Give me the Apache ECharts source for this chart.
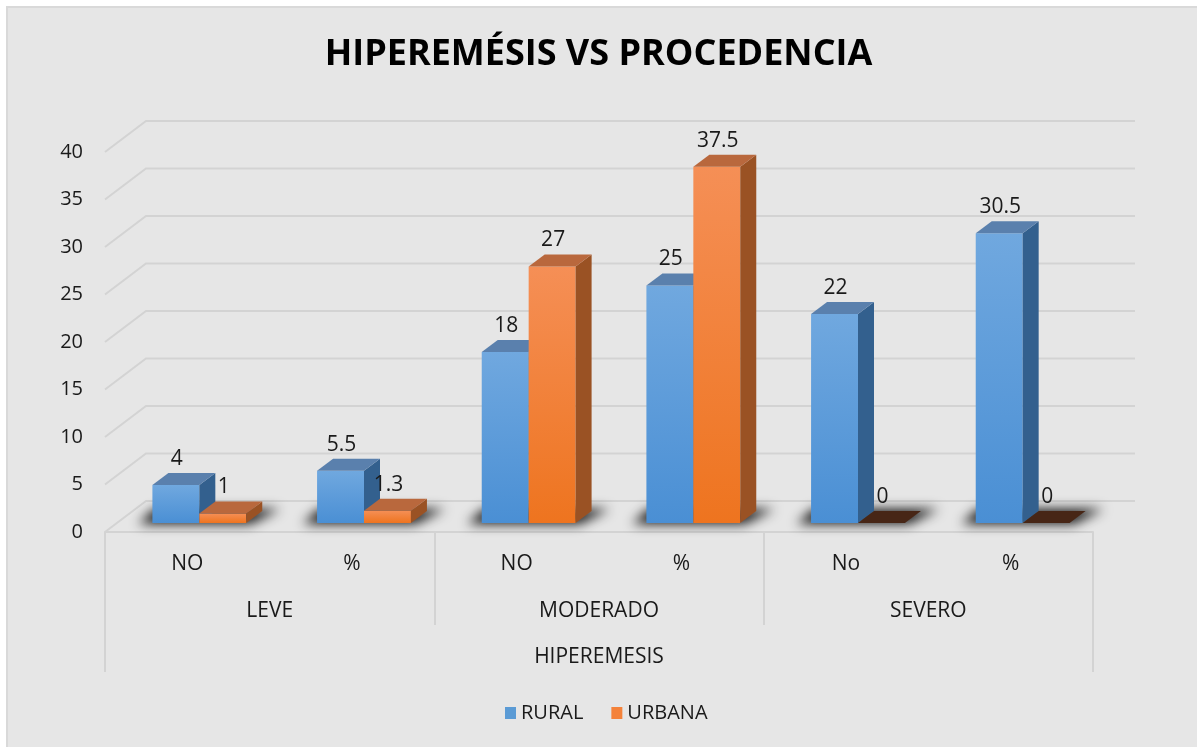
<!DOCTYPE html>
<html>
<head>
<meta charset="utf-8">
<title>Hiperemésis vs procedencia</title>
<script src="https://cdn.jsdelivr.net/npm/echarts@6/dist/echarts.min.js"></script>
<style>
    html, body { margin: 0; padding: 0; background: #fff; }
    #panel { position: absolute; left: 6px; top: 6px; right: 0; bottom: 0; background: #e6e6e6; border-top: 2px solid #d9d9d9; border-left: 2px solid #d9d9d9; }
    #chart { position: absolute; left: 0; top: 0; width: 1197px; height: 747px; }
</style>
</head>
<body>
<div id="panel"></div>
<div id="chart"></div>
<script>
// datos
var subCats = ['NO', '%', 'NO', '%', 'No', '%'];
var groupCats = ['LEVE', 'MODERADO', 'SEVERO'];
var topCat = ['HIPEREMESIS'];
var rural = [4, 5.5, 18, 25, 22, 30.5];
var urbana = [1, 1.3, 27, 37.5, 0, 0];
var yTicks = [0, 5, 10, 15, 20, 25, 30, 35, 40];

// desplazamientos de la vista 3D
var FRONT = [12, -9];   // cara frontal de las barras
var DEPTH = [16, -12];  // profundidad de las barras
var WALL = [41, -31];   // pared del fondo
var OFF = 3000;         // truco para dibujar solo la sombra

var FONT = '"Open Sans", "Noto Sans", sans-serif';
var TXT = '#1a1a1a';
var LINE = '#d3d3d3';

var faces = {
    rural: {
        front: new echarts.graphic.LinearGradient(0, 0, 0, 1, [
            {offset: 0, color: '#70a8df'}, {offset: 1, color: '#4a8fd4'}
        ]),
        top: '#5a80ad', side: '#33608e', zero: '#2a4a6e'
    },
    urbana: {
        front: new echarts.graphic.LinearGradient(0, 0, 0, 1, [
            {offset: 0, color: '#f58f56'}, {offset: 1, color: '#ee741f'}
        ]),
        top: '#b9683d', side: '#9a5224', zero: '#472616'
    }
};

function barRenderer(side, f) {
    return function (params, api) {
        var idx = api.value(0), v = api.value(1);
        var band = api.size([1, 0])[0];
        var base = api.coord([idx, 0]);
        var top = api.coord([idx, v]);
        var w = band * 0.285;
        var x0 = base[0] + FRONT[0] + (side === 0 ? -w : 0);
        var x1 = x0 + w;
        var yb = base[1] + FRONT[1];
        var yt = top[1] + FRONT[1];
        var dx = DEPTH[0], dy = DEPTH[1];
        var children = [];
        if (yb - yt > 0.5) {
            children.push({type: 'rect', shape: {x: x0, y: yt, width: w, height: yb - yt}, style: {fill: f.front}});
            children.push({type: 'polygon', shape: {points: [[x1, yt], [x1 + dx, yt + dy], [x1 + dx, yb + dy], [x1, yb]]}, style: {fill: f.side}});
        }
        children.push({type: 'polygon', shape: {points: [[x0, yt], [x1, yt], [x1 + dx, yt + dy], [x0 + dx, yt + dy]]}, style: {fill: v === 0 ? f.zero : f.top}});
        children.push({type: 'text', style: {text: String(v), x: (x0 + x1) / 2 + 1, y: yt + dy - 14, align: 'center', verticalAlign: 'middle', fill: TXT, fontSize: 21, fontFamily: FONT}});
        return {type: 'group', children: children};
    };
}

// sombra difusa bajo cada par de barras
function shadowRenderer(params, api) {
    var idx = api.value(0);
    var band = api.size([1, 0])[0];
    var base = api.coord([idx, 0]);
    var w = band * 0.285;
    var c = base[0] + FRONT[0];
    var yb = base[1] + FRONT[1] - OFF;
    return {
        type: 'polygon',
        shape: {points: [[c - w - 14, yb + 1], [c + w + 4, yb + 1], [c + w + DEPTH[0] + 18, yb + DEPTH[1] - 2], [c - w + 2, yb + DEPTH[1] - 2]]},
        style: {fill: '#000', shadowBlur: 12, shadowColor: 'rgba(0,0,0,0.9)', shadowOffsetY: OFF}
    };
}

// líneas de la pared del fondo
function gridRenderer(params, api) {
    var v = api.value(1);
    var band = api.size([1, 0])[0];
    var p = api.coord([0, v]);
    var q = api.coord([subCats.length - 1, v]);
    var xl = p[0] - band / 2, xr = q[0] + band / 2;
    return {
        type: 'polyline',
        shape: {points: [[xl, p[1]], [xl + WALL[0], p[1] + WALL[1]], [xr + WALL[0] + 1, p[1] + WALL[1]]]},
        style: {stroke: LINE, lineWidth: 2, fill: null}
    };
}

var myChart = echarts.init(document.getElementById('chart'));

var option = {
    animation: false,
    title: {
        text: 'HIPEREMÉSIS VS PROCEDENCIA',
        left: 'center',
        top: 32,
        textStyle: {fontFamily: FONT, fontWeight: 'bold', fontSize: 36, color: '#000'}
    },
    legend: {
        data: ['RURAL', 'URBANA'],
        bottom: 19,
        left: 500,
        icon: 'rect',
        itemWidth: 11,
        itemHeight: 12,
        itemGap: 28,
        textStyle: {fontFamily: FONT, fontSize: 20, color: TXT}
    },
    grid: {left: 105, right: 104, top: 152, bottom: 215},
    xAxis: [{
        type: 'category',
        data: subCats,
        axisLine: {lineStyle: {color: LINE, width: 2}},
        axisTick: {show: false},
        axisLabel: {margin: 22, fontFamily: FONT, fontSize: 21, color: TXT}
    }, {
        type: 'category',
        data: groupCats,
        position: 'bottom',
        axisLine: {show: false},
        axisTick: {show: true, interval: 0, length: 93, lineStyle: {color: LINE, width: 2}},
        axisLabel: {margin: 69, fontFamily: FONT, fontSize: 21, color: TXT}
    }, {
        type: 'category',
        data: topCat,
        position: 'bottom',
        axisLine: {show: false},
        axisTick: {show: true, interval: 0, length: 140, lineStyle: {color: LINE, width: 2}},
        axisLabel: {margin: 115, fontFamily: FONT, fontSize: 21, color: TXT}
    }],
    yAxis: {
        type: 'value',
        min: 0,
        max: 40,
        interval: 5,
        axisLine: {show: false},
        axisTick: {show: false},
        splitLine: {show: false},
        axisLabel: {margin: 22, padding: [4, 0, 0, 0], fontFamily: FONT, fontSize: 20, color: TXT}
    },
    series: [{
        type: 'custom',
        silent: true,
        z: 1,
        renderItem: gridRenderer,
        data: yTicks.map(function (t) { return [0, t]; })
    }, {
        type: 'custom',
        silent: true,
        z: 2,
        renderItem: shadowRenderer,
        data: subCats.map(function (c, i) { return [i, 0]; })
    }, {
        type: 'custom',
        name: 'RURAL',
        z: 3,
        itemStyle: {color: '#5b9bd5'},
        renderItem: barRenderer(0, faces.rural),
        data: rural.map(function (v, i) { return [i, v]; })
    }, {
        type: 'custom',
        name: 'URBANA',
        z: 4,
        itemStyle: {color: '#f4823a'},
        renderItem: barRenderer(1, faces.urbana),
        data: urbana.map(function (v, i) { return [i, v]; })
    }]
};

myChart.setOption(option);
</script>
</body>
</html>
